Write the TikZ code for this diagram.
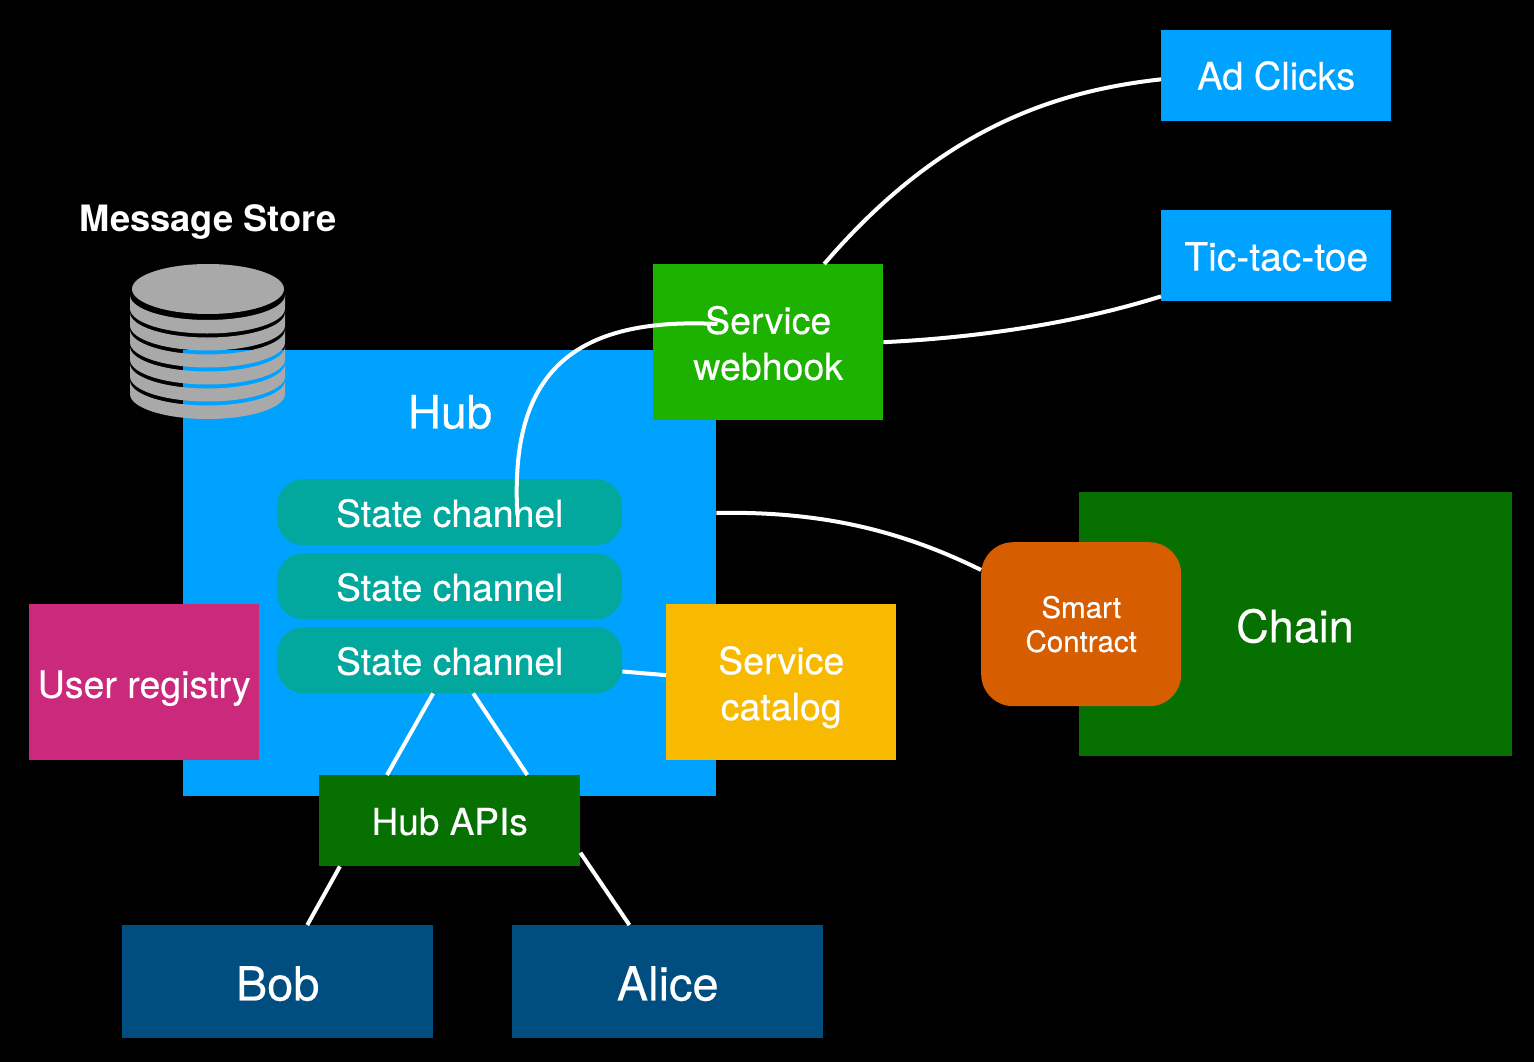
\documentclass[tikz,border=0pt]{standalone}
\usepackage{fontspec}
\setmainfont{TeX Gyre Heros}
\newfontfamily\medfont[FakeBold=0.35]{TeX Gyre Heros}
\usetikzlibrary{calc}
\definecolor{hubblue}{HTML}{00A2FF}
\definecolor{teal2}{HTML}{02A89E}
\definecolor{hookgreen}{HTML}{1DB100}
\definecolor{darkgreen}{HTML}{067000}
\definecolor{navy2}{HTML}{004D7F}
\definecolor{magenta2}{HTML}{CB297B}
\definecolor{amber}{HTML}{F8BA00}
\definecolor{burnt}{HTML}{D65D00}
\definecolor{diskgray}{HTML}{A9A9A9}
\newcommand{\fs}[2]{\fontsize{#1pt}{#2pt}\selectfont}
\newcommand{\dn}[2]{\raisebox{-#1pt}[\height][\depth]{#2}}
\tikzset{
  boxbase/.style={draw=none,inner sep=0pt,align=center,text=white,anchor=north west},
  channel/.style={boxbase,fill=teal2,minimum width=345pt,minimum height=66pt,rounded corners=26pt,font=\medfont\fs{37.3}{46}},
  wide/.style={boxbase,minimum width=230pt,font=\medfont\fs{37.5}{46}},
  person/.style={boxbase,fill=navy2,minimum width=311pt,minimum height=113pt,font=\medfont\fs{47}{46}},
  label/.style={inner sep=0pt,text=white,align=center},
  wire/.style={draw=white,line width=4pt}
}
\begin{document}
\begin{tikzpicture}[x=1pt,y=-1pt]
\useasboundingbox (0,0) rectangle (1534,1062);
\fill[black] (0,0) rectangle (1534,1062);
\node[boxbase,fill=hubblue,minimum width=533pt,minimum height=446pt] (hub) at (183,350) {};
\node[label,font=\medfont\fs{46}{46}] (hublabel) at (450,412) {Hub};
\node[label,font=\bfseries\fs{36.3}{46}] (storelabel) at (208,219) {\dn{3}{Message Store}};
% disk stack
\fill[diskgray] (132,289) arc[start angle=180,end angle=540,x radius=76pt,y radius=25pt];
\foreach \t/\b in {320/333.5,337.5/350.5,354.5/367.5,371.5/384.5,388.5/401.5,405.5/419}{
  \fill[diskgray] (130,\t-25) arc[start angle=180,end angle=360,x radius=77.5pt,y radius=25pt]
    -- (285,\b-25) arc[start angle=360,end angle=180,x radius=77.5pt,y radius=25pt] -- cycle;
}
\node[channel] (sc1) at (277,479) {\dn{1}{State channel}};
\node[channel] (sc2) at (277,553) {\dn{1}{State channel}};
\node[channel] (sc3) at (277,627) {\dn{1}{State channel}};
\node[wide,fill=hookgreen,minimum height=156pt] (hook) at (653,264) {\dn{1}{Service}\\\dn{1}{webhook}};
\node[wide,fill=hubblue,minimum height=91pt,font=\medfont\fs{38}{46}] (ad) at (1161,30) {Ad Clicks};
\node[wide,fill=hubblue,minimum height=91pt,font=\medfont\fs{39}{46}] (tic) at (1161,210) {\dn{1}{Tic-tac-toe}};
\node[wide,fill=magenta2,minimum height=156pt] (user) at (29,604) {\dn{6}{User registry}};
\node[wide,fill=amber,minimum height=156pt] (catalog) at (666,604) {\dn{5}{Service}\\\dn{5}{catalog}};
\node[boxbase,fill=darkgreen,minimum width=261pt,minimum height=91pt,font=\medfont\fs{37}{46}] (api) at (319,775) {\dn{1}{Hub APIs}};
\node[person] (bob) at (122,925) {\dn{2}{Bob}};
\node[person] (alice) at (512,925) {\dn{2}{Alice}};
\node[boxbase,fill=darkgreen,minimum width=433pt,minimum height=264pt] (chain) at (1079,492) {};
\node[label,font=\medfont\fs{45}{46}] (chainlabel) at (1295,626) {Chain};
\node[boxbase,fill=burnt,minimum width=200pt,minimum height=164pt,rounded corners=32pt,font=\medfont\fs{29.5}{34}] (smart) at (981,542) {Smart\\Contract};
% connectors
\draw[wire] ($(hook.north west)!0.743!(hook.north east)$) .. controls (935,135) and (1045,92) .. ($(ad.north west)!0.54!(ad.south west)$);
\draw[wire] (hook.east) .. controls (970,338) and (1070,325) .. ($(tic.north west)!0.945!(tic.south west)$);
\draw[wire] ($(hub.north east)!0.365!(hub.south east)$) .. controls (820,511) and (900,530) .. ($(smart.north west)!0.17!(smart.south west)$);
\draw[wire] ($(sc1.south west)!0.696!(sc1.south east)+(0,-30)$) .. controls (510,385) and (560,316) .. ($(hook.north west)!0.28!(hook.north east)+(0,60)$);
\draw[wire] ($(sc3.south west)!0.452!(sc3.south east)$) -- ($(api.north west)!0.26!(api.north east)$);
\draw[wire] ($(sc3.south west)!0.568!(sc3.south east)$) -- ($(api.north west)!0.797!(api.north east)$);
\draw[wire] ($(sc3.north east)!0.67!(sc3.south east)$) -- ($(catalog.north west)!0.455!(catalog.south west)$);
\draw[wire] ($(api.south west)!0.08!(api.south east)$) -- ($(bob.north west)!0.595!(bob.north east)$);
\draw[wire] ($(api.north east)!0.85!(api.south east)$) -- ($(alice.north west)!0.377!(alice.north east)$);
\end{tikzpicture}
\end{document}
